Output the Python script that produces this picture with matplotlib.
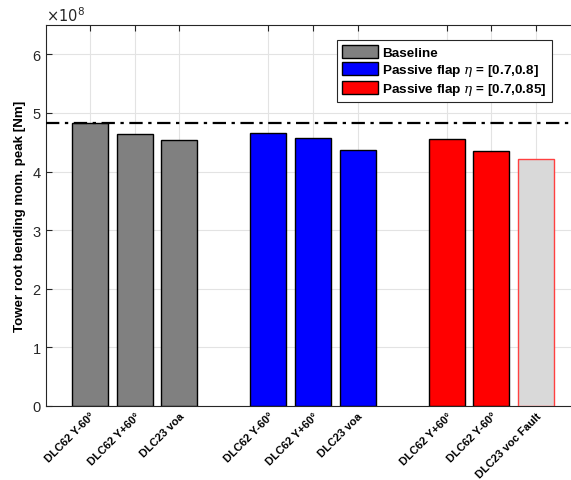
import matplotlib
matplotlib.use("Agg")
import matplotlib.pyplot as plt
import matplotlib.transforms as mtransforms
import numpy as np

plt.rcParams['font.family'] = ['Liberation Sans', 'DejaVu Sans']
plt.rcParams['mathtext.fontset'] = 'dejavuserif'

# data (values in 1e8 Nm)
labels = ['DLC62 Y-60°', 'DLC62 Y+60°', 'DLC23 voa',
          'DLC62 Y-60°', 'DLC62 Y+60°', 'DLC23 voa',
          'DLC62 Y+60°', 'DLC62 Y-60°', 'DLC23 voc Fault']
positions = [1, 2, 3, 5, 6, 7, 9, 10, 11]
baseline = [4.83, 4.64, 4.54]
flap_08 = [4.66, 4.57, 4.37]
flap_085 = [4.56, 4.35, 4.22]
ref_level = 4.83

scale = 1e8
fig = plt.figure(figsize=(5.71, 4.81), dpi=100)
# axes box runs a little past the right edge of the figure, as in the original
ax = fig.add_axes([45.5 / 571, 1 - 407 / 481, 535 / 571, 381 / 481])

w = 0.81
kw = dict(width=w, edgecolor='black', linewidth=1.0, zorder=3)
ax.bar(positions[0:3], np.array(baseline) * scale, color='#808080', label='Baseline', **kw)
ax.bar(positions[3:6], np.array(flap_08) * scale, color='#0000ff',
       label=r'Passive flap $\eta$ = [0.7,0.8]', **kw)
ax.bar(positions[6:8], np.array(flap_085[:2]) * scale, color='#ff0000',
       label=r'Passive flap $\eta$ = [0.7,0.85]', **kw)
ax.bar(positions[8:9], np.array(flap_085[2:]) * scale, width=w, color='#d9d9d9',
       edgecolor='#ff4040', linewidth=1.0, zorder=3)

ax.axhline(ref_level * scale, color='black', linestyle=(0, (6, 2.5, 1.5, 2.5)),
           linewidth=1.6, zorder=4)

ax.set_xlim(0, 12)
ax.set_ylim(0, 6.5e8)
ax.set_xticks(positions)
ax.set_xticklabels(labels, rotation=45, ha='right', rotation_mode='anchor',
                   fontsize=8.0, fontweight='bold')
shift = mtransforms.ScaledTranslation(0.07, 0, fig.dpi_scale_trans)
for lab in ax.get_xticklabels():
    lab.set_transform(lab.get_transform() + shift)
ax.set_yticks(np.arange(0, 7) * scale)
ax.set_yticklabels([str(i) for i in range(7)], fontsize=10.5, color='#262626')
ax.text(0.0, 1.003, r'$\mathsf{\times10^{8}}$', transform=ax.transAxes, fontsize=10.5,
        color='#262626', ha='left', va='bottom')

ax.set_ylabel('Tower root bending mom. peak [Nm]', fontsize=9.6, fontweight='bold')
ax.yaxis.set_label_coords(-0.037, 0.5)

ax.grid(True, color='#e3e3e3', linewidth=0.8, zorder=0)
ax.set_axisbelow(True)
ax.tick_params(direction='in', top=True, right=True, length=4, color='#262626',
               width=0.8)
ax.tick_params(axis='x', pad=3)
for s in ax.spines.values():
    s.set_color('#262626')
    s.set_linewidth(0.8)

leg = ax.legend(loc='upper right', bbox_to_anchor=(0.946, 0.961),
                prop={'weight': 'bold', 'size': 9.7}, fancybox=False,
                edgecolor='#262626', framealpha=1, handlelength=2.65,
                handleheight=1.05, handletextpad=0.3, borderpad=0.4,
                labelspacing=0.22, borderaxespad=0)
leg.get_frame().set_linewidth(0.8)

fig.savefig('out.png', dpi=100)
